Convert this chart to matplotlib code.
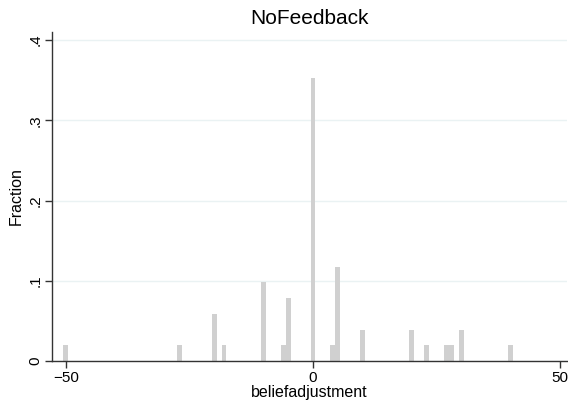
import numpy as np
import matplotlib.pyplot as plt

# belief adjustment values and their counts (n = 51)
values = [-50, -27, -20, -18, -10, -6, -5, 0, 4, 5, 10, 20, 23, 27, 28, 30, 40]
counts = [1, 1, 3, 1, 5, 1, 4, 18, 1, 6, 2, 2, 1, 1, 1, 2, 1]
n_obs = 51
xticks = [-50, 0, 50]
yticks = [0, 0.1, 0.2, 0.3, 0.4]
ytick_labels = ["0", ".1", ".2", ".3", ".4"]

plt.rcParams['font.family'] = ['Liberation Sans', 'DejaVu Sans']

fig = plt.figure(figsize=(5.68, 4.04), dpi=100)
ax = fig.add_axes([0.0915, 0.106, 0.907, 0.815])

frac = np.array(counts) / n_obs
ax.bar(values, frac, width=1.0, color='#d0d0d0', align='center', zorder=2)

ax.set_xlim(-52.8, 51.4)
ax.set_ylim(0, 0.41)
ax.set_xticks(xticks)
ax.set_yticks(yticks)
ax.set_yticklabels(ytick_labels, rotation=90, va='center')
ax.yaxis.grid(True, color='#eaf2f3', linewidth=1, zorder=0)
ax.set_axisbelow(True)

for side in ['top', 'right']:
    ax.spines[side].set_visible(False)
for side in ['left', 'bottom']:
    ax.spines[side].set_color('#333333')
    ax.spines[side].set_linewidth(1)

ax.tick_params(axis='both', direction='out', length=5, width=1, color='#333333',
               labelsize=11, pad=2)
ax.set_xlabel('beliefadjustment', fontsize=11.5, labelpad=0)
ax.set_ylabel('Fraction', fontsize=11.5, labelpad=3)
ax.set_title('NoFeedback', fontsize=15, pad=6)

fig.savefig('out.png', dpi=100)
